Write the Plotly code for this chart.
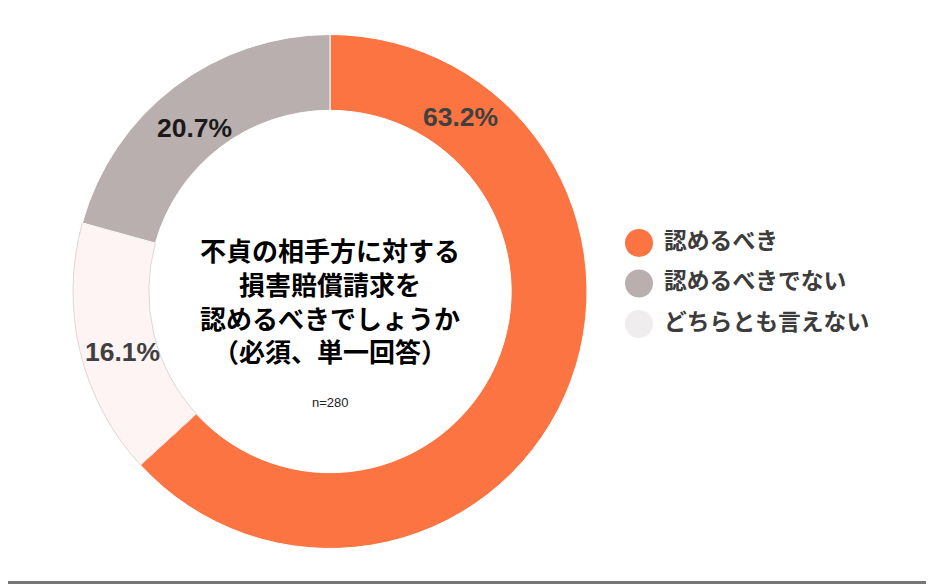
import plotly.graph_objects as go

categories = ["認めるべき", "認めるべきでない", "どちらとも言えない"]
values = [63.2, 20.7, 16.1]
slice_colors = ["#FB7441", "#B9AFAF", "#FDF4F3"]
legend_colors = ["#FB7441", "#B9AFAF", "#EFEDED"]
line_colors = ["#FFFFFF", "#FFFFFF", "#DCD8D8"]
label_colors = ["#404040", "#1A1A1A", "#404040"]
title_lines = ["不貞の相手方に対する", "損害賠償請求を", "認めるべきでしょうか", "（必須、単一回答）"]
n_label = "n=280"

# clockwise draw order: orange, light, grey
order = [0, 2, 1]

# page has an 8px body margin; work in screen pixels and convert
OFF = 8
FW, FH = 934 - OFF, 584 - OFF


def X(sx):
    return (sx - OFF) / FW


def Y(sy):
    return 1 - (sy - OFF) / FH


cx, cy, R = 330, 291.5, 257

FONT = "Liberation Sans, Arial, Noto Sans CJK JP, sans-serif"
JFONT = "Noto Sans CJK JP, sans-serif"

fig = go.Figure()

fig.add_trace(go.Pie(
    labels=[categories[i] for i in order],
    values=[values[i] for i in order],
    marker=dict(colors=[slice_colors[i] for i in order],
                line=dict(color=[line_colors[i] for i in order], width=1)),
    sort=False,
    direction="clockwise",
    rotation=0,
    hole=0.705,
    textinfo="none",
    domain=dict(x=[X(cx - R), X(cx + R)], y=[Y(cy + R), Y(cy - R)]),
    showlegend=False,
    hoverinfo="label+value",
))

# Legend built as scatter markers + text
fig.add_trace(go.Scatter(
    x=[0] * len(categories), y=list(range(len(categories))),
    mode="markers",
    marker=dict(size=28, color=legend_colors, line=dict(width=0)),
    showlegend=False, cliponaxis=False, hoverinfo="skip",
))
fig.add_trace(go.Scatter(
    x=[1] * len(categories), y=list(range(len(categories))),
    mode="text",
    text=categories,
    textposition="middle right",
    textfont=dict(family=JFONT, size=22.8, color="#3C3C3C", weight="bold"),
    showlegend=False, cliponaxis=False, hoverinfo="skip",
))

# percentage labels in the ring
label_pos = [(460, 117), (194, 128), (122, 352)]
for v, (sx, sy), c in zip(values, label_pos, label_colors):
    fig.add_annotation(
        x=X(sx), y=Y(sy), xref="paper", yref="paper",
        xanchor="center", yanchor="middle",
        text=f"{v:.1f}%", showarrow=False,
        font=dict(family=FONT, size=26.5, color=c, weight="bold"),
    )

# Center title
fig.add_annotation(
    x=X(cx), y=Y(300), xref="paper", yref="paper",
    xanchor="center", yanchor="middle", align="center",
    text="<br>".join(title_lines), showarrow=False,
    font=dict(family=JFONT, size=26, color="#000000", weight="bold"),
)
fig.add_annotation(
    x=X(cx), y=Y(402), xref="paper", yref="paper",
    xanchor="center", yanchor="middle",
    text=n_label, showarrow=False,
    font=dict(family=FONT, size=13, color="#222222"),
)

# bottom border line
fig.add_shape(type="rect", xref="paper", yref="paper",
              x0=0, x1=1, y0=0, y1=3 / FH, fillcolor="#777777", line=dict(width=0))

y0p, y1p = 243, 324
step = (y1p - y0p) / 2
fig.update_layout(
    width=FW, height=FH,
    margin=dict(l=0, r=0, t=0, b=0),
    paper_bgcolor="white", plot_bgcolor="rgba(0,0,0,0)",
    xaxis=dict(domain=[X(639), X(664)], range=[0, 1], visible=False, fixedrange=True),
    yaxis=dict(domain=[Y(y1p + step / 2), Y(y0p - step / 2)],
               range=[2.5, -0.5], visible=False, fixedrange=True),
)

fig.write_html("out.html")
